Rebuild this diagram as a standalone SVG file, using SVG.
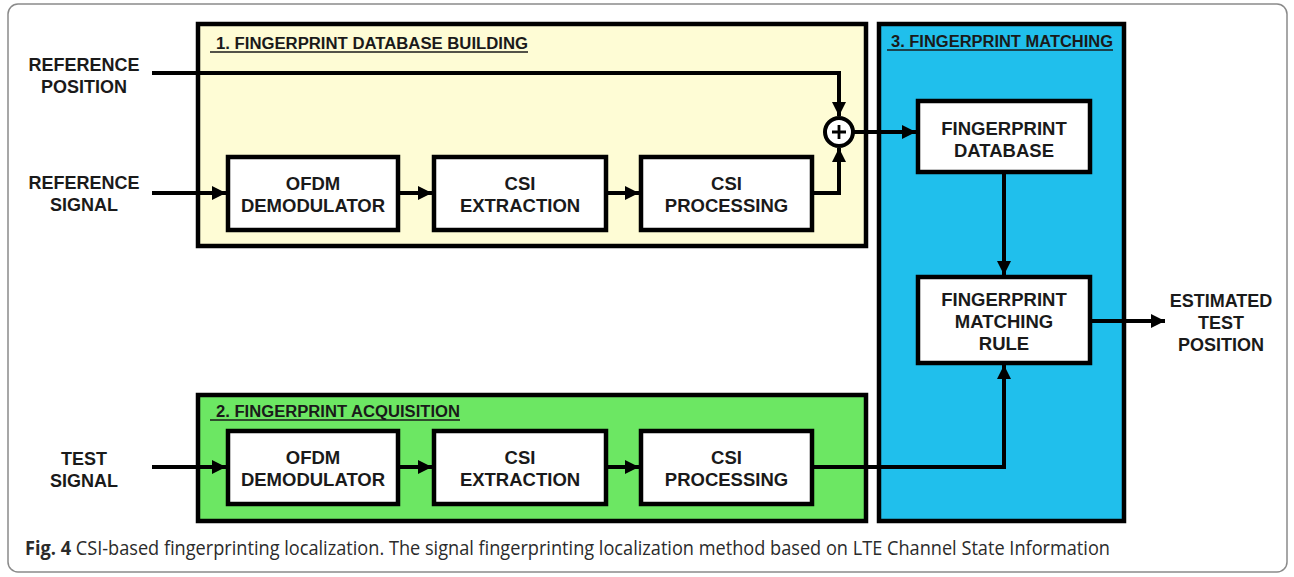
<svg xmlns="http://www.w3.org/2000/svg" width="1294" height="577" viewBox="0 0 1294 577">
<style>
.frame{fill:#fff;stroke:#8a8a8a;stroke-width:1.5}
.grp{stroke:#000;stroke-width:4.5}
.box{fill:#fff;stroke:#000;stroke-width:4.5}
.lbl{font-family:"Liberation Sans",Arial,sans-serif;font-weight:bold;font-size:18.5px;fill:#1a1a1a;text-anchor:middle}
.side{font-family:"Liberation Sans",Arial,sans-serif;font-weight:bold;font-size:18px;fill:#1a1a1a;text-anchor:middle}
.ttl{font-family:"Liberation Sans",Arial,sans-serif;font-weight:bold;font-size:16px;fill:#1a1a1a}
.ul{stroke:#1a1a1a;stroke-width:1.5}
.wire{fill:none;stroke:#000;stroke-width:4}
.cap{font-family:"Open Sans","Liberation Sans",sans-serif;font-size:20px;fill:#2b2b2b}
</style>
<defs>
<marker id="ah" viewBox="0 0 10 10" refX="10" refY="5" markerWidth="3.6" markerHeight="3.6" markerUnits="strokeWidth" orient="auto">
<path d="M0,0 L10,5 L0,10 z" fill="#000"/>
</marker>
</defs>
<rect class="frame" x="8" y="4" width="1279" height="568" rx="10"/>

<g id="group-db-building">
<rect class="grp" x="198" y="24" width="668" height="222" fill="#fefcd5"/>
<text class="ttl" x="216" y="49" textLength="312" lengthAdjust="spacingAndGlyphs">1. FINGERPRINT DATABASE  BUILDING</text>
<line class="ul" x1="210" y1="52" x2="528" y2="52"/>
</g>
<g id="group-acquisition">
<rect class="grp" x="198" y="395" width="668" height="126" fill="#6ce763"/>
<text class="ttl" x="216" y="417" textLength="244" lengthAdjust="spacingAndGlyphs">2. FINGERPRINT ACQUISITION</text>
<line class="ul" x1="210" y1="420" x2="460" y2="420"/>
</g>
<g id="group-matching">
<rect class="grp" x="879" y="24" width="245" height="497" fill="#20bfec"/>
<text class="ttl" x="891" y="47" textLength="222" lengthAdjust="spacingAndGlyphs">3. FINGERPRINT MATCHING</text>
<line class="ul" x1="887" y1="50" x2="1113" y2="50"/>
</g>

<g id="label-ref-pos"><text class="side" x="84" y="70.5">REFERENCE</text><text class="side" x="84" y="92.5">POSITION</text></g>
<g id="label-ref-sig"><text class="side" x="84" y="188.5">REFERENCE</text><text class="side" x="84" y="210.5">SIGNAL</text></g>
<g id="label-test-sig"><text class="side" x="84" y="464.5">TEST</text><text class="side" x="84" y="486.5">SIGNAL</text></g>
<g id="label-est"><text class="side" x="1221" y="306.5">ESTIMATED</text><text class="side" x="1221" y="328.5">TEST</text><text class="side" x="1221" y="350.5">POSITION</text></g>

<g id="ofdm1"><rect class="box" x="228" y="157" width="170" height="73"/><text class="lbl" x="313" y="190">OFDM</text><text class="lbl" x="313" y="212">DEMODULATOR</text></g>
<g id="csiext1"><rect class="box" x="434" y="157" width="172" height="73"/><text class="lbl" x="520" y="190">CSI</text><text class="lbl" x="520" y="212">EXTRACTION</text></g>
<g id="csiproc1"><rect class="box" x="641" y="157" width="171" height="73"/><text class="lbl" x="726.5" y="190">CSI</text><text class="lbl" x="726.5" y="212">PROCESSING</text></g>

<g id="ofdm2"><rect class="box" x="228" y="431" width="170" height="73"/><text class="lbl" x="313" y="464">OFDM</text><text class="lbl" x="313" y="486">DEMODULATOR</text></g>
<g id="csiext2"><rect class="box" x="434" y="431" width="172" height="73"/><text class="lbl" x="520" y="464">CSI</text><text class="lbl" x="520" y="486">EXTRACTION</text></g>
<g id="csiproc2"><rect class="box" x="641" y="431" width="171" height="73"/><text class="lbl" x="726.5" y="464">CSI</text><text class="lbl" x="726.5" y="486">PROCESSING</text></g>

<g id="fpdb"><rect class="box" x="918" y="101" width="172" height="71"/><text class="lbl" x="1004" y="135">FINGERPRINT</text><text class="lbl" x="1004" y="157">DATABASE</text></g>
<g id="fprule"><rect class="box" x="918" y="277" width="172" height="86"/><text class="lbl" x="1004" y="306">FINGERPRINT</text><text class="lbl" x="1004" y="328">MATCHING</text><text class="lbl" x="1004" y="350">RULE</text></g>

<g id="sum"><circle cx="839" cy="132" r="14" fill="#fff" stroke="#000" stroke-width="4"/><path d="M832,132 H846 M839,125 V139" stroke="#000" stroke-width="2.8"/></g>

<g id="connectors">
<path class="wire" d="M152,73 H839 V116" marker-end="url(#ah)"/>
<path class="wire" d="M812,193 H839 V148" marker-end="url(#ah)"/>
<path class="wire" d="M152,193 H226" marker-end="url(#ah)"/>
<path class="wire" d="M398,193 H432" marker-end="url(#ah)"/>
<path class="wire" d="M606,193 H639" marker-end="url(#ah)"/>
<path class="wire" d="M853,132 H916" marker-end="url(#ah)"/>
<path class="wire" d="M1004,172 V275" marker-end="url(#ah)"/>
<path class="wire" d="M152,467 H226" marker-end="url(#ah)"/>
<path class="wire" d="M398,467 H432" marker-end="url(#ah)"/>
<path class="wire" d="M606,467 H639" marker-end="url(#ah)"/>
<path class="wire" d="M812,467 H1004 V365" marker-end="url(#ah)"/>
<path class="wire" d="M1090,321 H1165" marker-end="url(#ah)"/>
</g>

<text class="cap" x="25" y="555" textLength="1085" lengthAdjust="spacingAndGlyphs"><tspan font-weight="bold">Fig. 4</tspan> CSI-based fingerprinting localization. The signal fingerprinting localization method based on LTE Channel State Information</text>
</svg>
